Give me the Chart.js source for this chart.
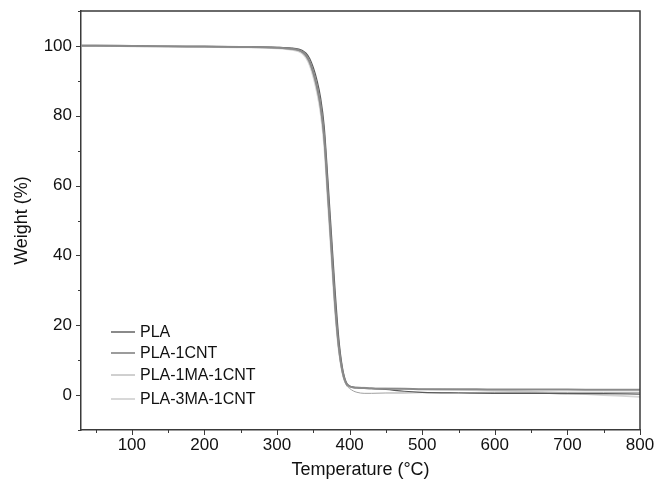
<!DOCTYPE html>
<html>
<head>
<meta charset="utf-8">
<script src="https://cdn.jsdelivr.net/npm/chart.js@4"></script>
<style>
  html, body { margin: 0; padding: 0; background: #fff; }
  #wrap { width: 657px; height: 485px; }
</style>
</head>
<body>
<div id="wrap"><canvas id="tga"></canvas></div>
<script>
// temperature (°C) shared by every curve
const temps = [30, 50, 100, 150, 200, 250, 300, 320, 330, 335, 340, 345, 350, 355, 360, 365, 370, 375, 380, 385, 390, 395, 400, 405, 410, 420, 430, 450, 475, 500, 550, 600, 650, 700, 750, 800];

// weight (%)
const pla = [100.1, 100.1, 100.0, 99.9, 99.8, 99.7, 99.5, 99.2, 98.8, 98.3, 97.3, 95.5, 92.5, 88.5, 83.0, 74.0, 58.0, 42.0, 26.0, 14.0, 7.0, 3.5, 2.5, 2.2, 2.1, 2.0, 1.9, 1.8, 1.8, 1.7, 1.7, 1.6, 1.6, 1.6, 1.5, 1.5];
const pla1cnt = [100.1, 100.1, 100.0, 99.9, 99.9, 99.8, 99.6, 99.4, 99.1, 98.7, 97.9, 96.4, 93.8, 90.2, 85.2, 77.0, 62.0, 46.0, 30.0, 16.5, 8.0, 3.8, 2.6, 2.3, 2.1, 2.0, 1.9, 1.6, 1.1, 0.8, 0.6, 0.5, 0.5, 0.4, 0.4, 0.3];
const pla1ma = [100.0, 100.0, 99.9, 99.8, 99.7, 99.6, 99.4, 99.0, 98.6, 98.0, 96.9, 94.9, 91.8, 87.5, 81.8, 72.5, 56.5, 40.5, 24.5, 13.0, 6.2, 3.0, 1.9, 1.2, 0.8, 0.5, 0.5, 0.6, 0.6, 0.7, 0.7, 0.8, 0.8, 0.8, 0.8, 0.8];
const pla3ma = [100.0, 100.0, 99.9, 99.8, 99.7, 99.6, 99.3, 98.9, 98.4, 97.8, 96.6, 94.5, 91.2, 86.8, 81.0, 71.5, 55.5, 39.5, 24.0, 13.0, 6.5, 3.3, 2.4, 2.3, 2.2, 2.1, 2.0, 1.9, 1.8, 1.7, 1.5, 1.3, 1.0, 0.5, 0.0, -0.5];

const seriesNames = ['PLA', 'PLA-1CNT', 'PLA-1MA-1CNT', 'PLA-3MA-1CNT'];
const seriesColors = ['#8a8a8a', '#5a5a5a', '#a0a0a0', '#d4d4d4'];
const seriesWidths = [2, 1.2, 1, 1.8];

const xTicks = [100, 200, 300, 400, 500, 600, 700, 800];
const yTicks = [0, 20, 40, 60, 80, 100];

const axisColor = '#3a3a3a';
const font = "'Liberation Sans', Arial, sans-serif";

const toPoints = ys => temps.map((t, i) => ({ x: t, y: ys[i] }));
const allSeries = [pla, pla1cnt, pla1ma, pla3ma];

// frame on top/right plus outward major and minor tick marks
const frameTicks = {
  id: 'frameTicks',
  afterDraw(chart) {
    const { ctx, chartArea: a, scales: { x, y } } = chart;
    ctx.save();
    ctx.strokeStyle = axisColor;
    ctx.lineWidth = 1.5;
    ctx.beginPath();
    ctx.moveTo(a.left, a.top);
    ctx.lineTo(a.right, a.top);
    ctx.lineTo(a.right, a.bottom);
    ctx.stroke();
    ctx.lineWidth = 1;
    ctx.beginPath();
    for (let v = 50; v <= 800; v += 50) {
      const px = Math.round(x.getPixelForValue(v)) + 0.5;
      ctx.moveTo(px, a.bottom);
      ctx.lineTo(px, a.bottom + (v % 100 === 0 ? 5 : 3));
    }
    for (let v = -10; v <= 110; v += 10) {
      const py = Math.round(y.getPixelForValue(v)) + 0.5;
      ctx.moveTo(a.left, py);
      ctx.lineTo(a.left - (v % 20 === 0 ? 5 : 3), py);
    }
    ctx.stroke();
    ctx.restore();
  }
};

// legend in the lower-left corner of the plot
const insideLegend = {
  id: 'insideLegend',
  afterDraw(chart) {
    const { ctx } = chart;
    const rows = [332, 353, 375, 399];
    ctx.save();
    ctx.font = '16px ' + font;
    ctx.textBaseline = 'middle';
    ctx.fillStyle = '#111';
    chart.data.datasets.forEach((ds, i) => {
      ctx.strokeStyle = ds.borderColor;
      ctx.lineWidth = ds.borderWidth;
      ctx.beginPath();
      ctx.moveTo(111, rows[i]);
      ctx.lineTo(135, rows[i]);
      ctx.stroke();
      ctx.fillText(ds.label, 140, rows[i] + 1);
    });
    ctx.restore();
  }
};

new Chart(document.getElementById('tga'), {
  type: 'line',
  data: {
    datasets: allSeries.map((ys, i) => ({
      label: seriesNames[i],
      data: toPoints(ys),
      borderColor: seriesColors[i],
      borderWidth: seriesWidths[i],
      pointRadius: 0,
      fill: false,
      cubicInterpolationMode: 'monotone'
    }))
  },
  options: {
    responsive: true,
    maintainAspectRatio: false,
    animation: false,
    layout: { padding: { top: 11, right: 17, left: 0, bottom: 0 } },
    plugins: {
      legend: { display: false },
      tooltip: { enabled: false }
    },
    scales: {
      x: {
        type: 'linear',
        min: 30,
        max: 800,
        afterBuildTicks: s => { s.ticks = xTicks.map(v => ({ value: v })); },
        afterFit: s => { s.height = 55; s.paddingLeft = 0; s.paddingRight = 0; },
        grid: { display: true, drawOnChartArea: false, drawTicks: false },
        border: { display: true, color: axisColor, width: 1.5 },
        ticks: {
          color: '#111',
          padding: 5,
          maxRotation: 0,
          font: { family: font, size: 17 }
        },
        title: {
          display: true,
          text: 'Temperature (°C)',
          color: '#111',
          padding: { top: 0, bottom: 4 },
          font: { family: font, size: 18 }
        }
      },
      y: {
        type: 'linear',
        min: -10,
        max: 110,
        afterBuildTicks: s => { s.ticks = yTicks.map(v => ({ value: v })); },
        afterFit: s => { s.width = 81; s.paddingTop = 0; s.paddingBottom = 0; },
        grid: { display: true, drawOnChartArea: false, drawTicks: false },
        border: { display: true, color: axisColor, width: 1.5 },
        ticks: {
          color: '#111',
          padding: 9,
          font: { family: font, size: 17 }
        },
        title: {
          display: true,
          text: 'Weight (%)',
          color: '#111',
          padding: { top: 11, bottom: 0 },
          font: { family: font, size: 18 }
        }
      }
    }
  },
  plugins: [frameTicks, insideLegend]
});
</script>
</body>
</html>
